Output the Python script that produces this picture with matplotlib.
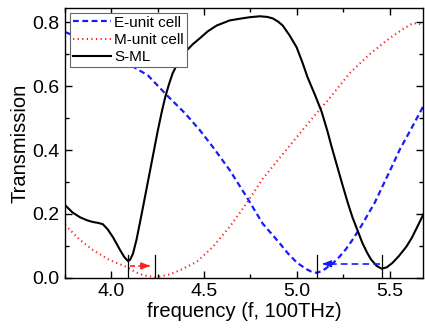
import matplotlib
matplotlib.use("Agg")
import matplotlib.pyplot as plt

plt.rcParams["font.family"] = ["Liberation Sans", "DejaVu Sans"]

# E-unit cell (blue dashed)
f_e = [3.75, 3.85, 3.95, 4.05, 4.15, 4.197, 4.299, 4.396, 4.477, 4.547, 4.638,
       4.73, 4.816, 4.907, 4.95, 5.0, 5.05, 5.08, 5.107, 5.135, 5.16, 5.195, 5.23,
       5.265, 5.30, 5.34, 5.375, 5.42, 5.46, 5.51, 5.554, 5.62, 5.68]
t_e = [0.770, 0.745, 0.718, 0.685, 0.650, 0.634, 0.572, 0.516, 0.4625, 0.41, 0.3375,
       0.253, 0.17, 0.109, 0.078, 0.048, 0.028, 0.019, 0.016, 0.021, 0.031, 0.046, 0.066,
       0.09, 0.119, 0.155, 0.19, 0.235, 0.284, 0.345, 0.40, 0.47, 0.535]

# M-unit cell (red dotted)
f_m = [3.75, 3.83, 3.90, 3.99, 4.083, 4.13, 4.17, 4.20, 4.234, 4.27, 4.315, 4.369,
       4.46, 4.547, 4.638, 4.73, 4.816, 4.907, 4.999, 5.08, 5.177, 5.284, 5.392,
       5.50, 5.57, 5.624, 5.655, 5.68]
t_m = [0.166, 0.119, 0.0875, 0.056, 0.034, 0.018, 0.009, 0.005, 0.003, 0.005, 0.011, 0.024,
       0.05, 0.097, 0.16, 0.234, 0.31, 0.375, 0.44, 0.497, 0.5625, 0.64, 0.70,
       0.75, 0.778, 0.797, 0.797, 0.79]

# S-ML (black solid)
f_s = [3.75, 3.79, 3.83, 3.87, 3.90, 3.93, 3.954, 3.98, 4.008, 4.03, 4.046, 4.07,
       4.089, 4.10, 4.116, 4.135, 4.153, 4.17, 4.19, 4.21, 4.23, 4.25, 4.27, 4.29,
       4.31, 4.33, 4.36, 4.396, 4.44, 4.477, 4.52, 4.568, 4.638, 4.70, 4.746, 4.80,
       4.84, 4.87, 4.90, 4.924, 4.96, 4.999, 5.03, 5.058, 5.10, 5.134, 5.165, 5.188,
       5.22, 5.247, 5.275, 5.30, 5.33, 5.354, 5.38, 5.40, 5.43, 5.457, 5.485, 5.516,
       5.55, 5.59, 5.62, 5.65, 5.688]
t_s = [0.228, 0.205, 0.19, 0.18, 0.175, 0.172, 0.168, 0.152, 0.128, 0.105, 0.088, 0.065,
       0.053, 0.056, 0.075, 0.118, 0.17, 0.22, 0.28, 0.34, 0.40, 0.46, 0.515, 0.565,
       0.605, 0.64, 0.675, 0.706, 0.732, 0.75, 0.772, 0.79, 0.806, 0.812, 0.816, 0.819,
       0.817, 0.8125, 0.802, 0.79, 0.76, 0.722, 0.675, 0.628, 0.57, 0.52, 0.46, 0.41,
       0.345, 0.29, 0.235, 0.19, 0.145, 0.109, 0.078, 0.058, 0.038, 0.029, 0.033, 0.047,
       0.068, 0.097, 0.125, 0.16, 0.205]

# resonance shifts: (from, to) frequency, marker height, arrow height
red_shift = (4.089, 4.234)
blue_shift = (5.457, 5.107)
mark_top = 0.072
red_arrow_y = 0.0375
blue_arrow_y = 0.044

fig = plt.figure(figsize=(4.25, 3.32), dpi=100)
ax = fig.add_axes([0.153, 0.163, 0.842, 0.813])

ax.plot(f_e, t_e, color="#1a1aff", ls=(0, (2.6, 1.6)), lw=1.6, label="E-unit cell")
ax.plot(f_m, t_m, color="#ff2020", ls=(0, (0.6, 1.6)), lw=1.5, label="M-unit cell")
ax.plot(f_s, t_s, color="black", lw=1.5, label="S-ML")

# marker lines and shift arrows
for f0 in list(red_shift) + list(blue_shift):
    ax.plot([f0, f0], [0, mark_top], color="black", lw=0.9)

ax.plot([red_shift[0] + 0.01, red_shift[1] - 0.04], [red_arrow_y, red_arrow_y],
        color="#ff2020", ls=(0, (3, 2)), lw=1.2)
ax.annotate("", xy=(red_shift[1] - 0.01, red_arrow_y), xytext=(red_shift[1] - 0.05, red_arrow_y),
            arrowprops=dict(arrowstyle="-|>,head_length=0.5,head_width=0.2",
                            color="#ff2020", lw=1.2))
ax.plot([blue_shift[0] - 0.01, blue_shift[1] + 0.05], [blue_arrow_y, blue_arrow_y],
        color="#1a1aff", ls=(0, (4, 2.5)), lw=1.2)
ax.annotate("", xy=(blue_shift[1] + 0.015, blue_arrow_y), xytext=(blue_shift[1] + 0.06, blue_arrow_y),
            arrowprops=dict(arrowstyle="-|>,head_length=0.5,head_width=0.2",
                            color="#1a1aff", lw=1.2))

ax.set_xlim(3.75, 5.68)
ax.set_ylim(0, 0.845)
ax.set_xticks([4.0, 4.5, 5.0, 5.5])
ax.set_xticks([3.75, 4.25, 4.75, 5.25], minor=True)
ax.set_yticks([0.0, 0.2, 0.4, 0.6, 0.8])
ax.set_yticks([0.1, 0.3, 0.5, 0.7], minor=True)
ax.xaxis.set_major_formatter(plt.FormatStrFormatter("%.1f"))
ax.yaxis.set_major_formatter(plt.FormatStrFormatter("%.1f"))
ax.tick_params(which="both", direction="in", top=True, right=True, labelsize=14, width=1)
ax.tick_params(which="major", length=5, pad=4)
ax.tick_params(which="minor", length=3)
for s in ax.spines.values():
    s.set_linewidth(1.0)

ax.set_xlabel("frequency (f, 100THz)", fontsize=14.5, labelpad=1)
ax.set_ylabel("Transmission", fontsize=14.5, labelpad=2)

leg = ax.legend(loc="upper left", fontsize=11, handlelength=2.5, handletextpad=0.2,
                labelspacing=0.22, borderpad=0.2, borderaxespad=0.3,
                fancybox=False, framealpha=1, edgecolor="#666666")
leg.get_frame().set_linewidth(0.8)

fig.savefig("out.png", dpi=100)
